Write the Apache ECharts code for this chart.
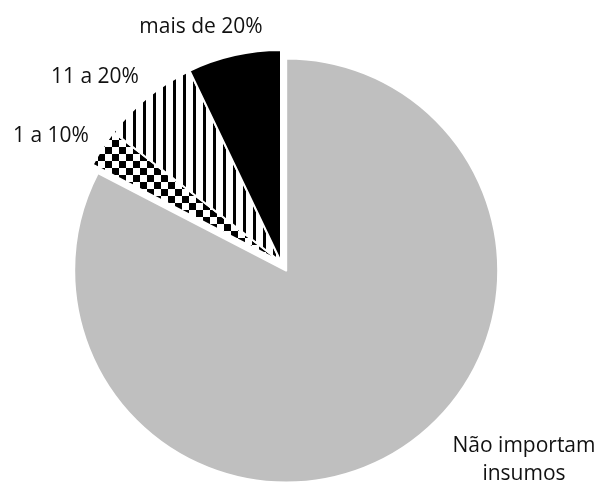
<!DOCTYPE html>
<html>
<head>
<meta charset="utf-8">
<script src="https://cdn.jsdelivr.net/npm/echarts@6/dist/echarts.min.js"></script>
<style>
  html, body { margin: 0; padding: 0; background: #fff; }
  #chart { width: 605px; height: 482px; }
</style>
</head>
<body>
<div id="chart"></div>
<script>
// categories and shares (%), clockwise from 12 o'clock
const categories = ['Não importam\ninsumos', '1 a 10%', '11 a 20%', 'mais de 20%'];
const shares = [82.6, 2.9, 7.4, 7.1];

// small canvas patterns for the hatched slices
function makePattern(kind) {
    const c = document.createElement('canvas');
    const ctx = c.getContext('2d');
    if (kind === 'stripes') {
        c.width = 10; c.height = 10;
        ctx.fillStyle = '#fff';
        ctx.fillRect(0, 0, 10, 10);
        ctx.fillStyle = '#000';
        ctx.fillRect(3, 0, 3, 10);
    } else {
        c.width = 14; c.height = 14;
        ctx.fillStyle = '#fff';
        ctx.fillRect(0, 0, 14, 14);
        ctx.fillStyle = '#000';
        ctx.fillRect(0, 0, 7, 7);
        ctx.fillRect(7, 7, 7, 7);
    }
    return { image: c, repeat: 'repeat' };
}

const fills = ['#bfbfbf', makePattern('checker'), makePattern('stripes'), '#000'];
// where each label sits (centre of the text block), as in the original
const labelPos = [[524, 460], [51, 136], [95, 77], [201, 27]];

const cx = 281, cy = 262, R = 212, explode = 10;
// the big slice is pulled out along its bisector
const total = shares.reduce((a, b) => a + b, 0);
const mid = Math.PI * shares[0] / total;
const bigCenter = [cx + explode * Math.sin(mid), cy - explode * Math.cos(mid)];

const base = {
    type: 'pie',
    radius: [0, R],
    startAngle: 90,
    clockwise: true,
    silent: true,
    emphasis: { disabled: true },
    labelLine: { show: false }
};

let myChart = echarts.init(document.getElementById('chart'));
const option = {
    animation: false,
    series: [
        Object.assign({}, base, {
            center: bigCenter,
            label: { show: false },
            data: categories.map((name, i) => ({
                name: name,
                value: shares[i],
                itemStyle: i === 0
                    ? { color: fills[0], borderColor: '#fff', borderWidth: 2 }
                    : { color: 'rgba(0,0,0,0)', borderWidth: 0 }
            }))
        }),
        Object.assign({}, base, {
            center: [cx, cy],
            label: {
                show: true,
                position: 'outside',
                color: '#111',
                fontFamily: 'Open Sans',
                fontSize: 21,
                lineHeight: 28,
                overflow: 'none'
            },
            labelLayout: params => ({
                x: labelPos[params.dataIndex][0],
                y: labelPos[params.dataIndex][1],
                align: 'center',
                verticalAlign: 'middle',
                hideOverlap: false
            }),
            data: categories.map((name, i) => ({
                name: name,
                value: shares[i],
                itemStyle: i === 0
                    ? { color: 'rgba(0,0,0,0)', borderWidth: 0 }
                    : { color: fills[i], borderColor: '#fff', borderWidth: 2 }
            }))
        })
    ]
};
myChart.setOption(option);
</script>
</body>
</html>
